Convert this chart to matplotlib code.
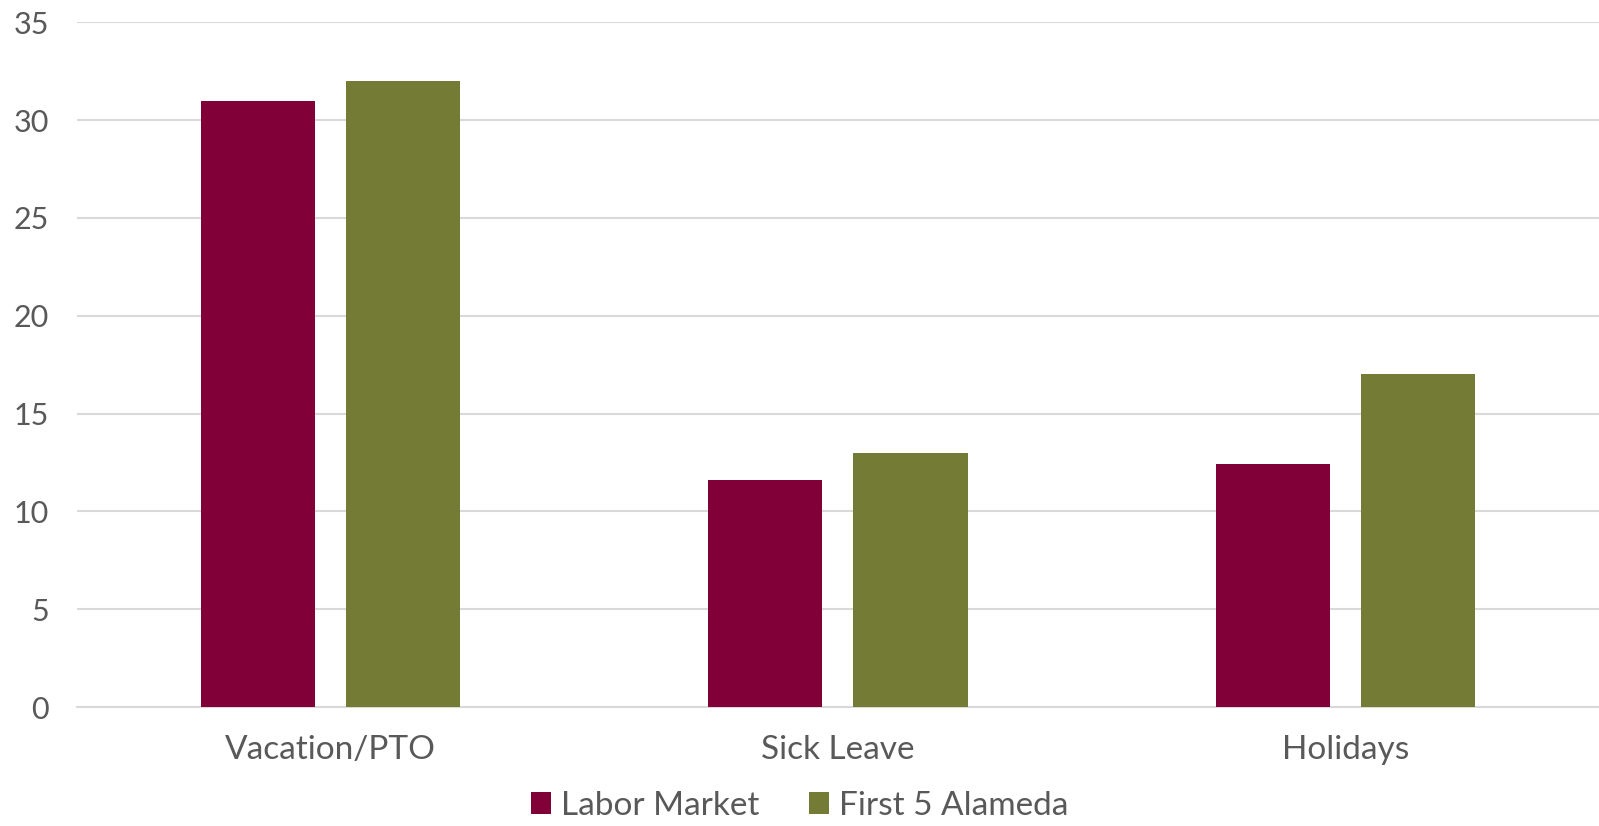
import numpy as np
import matplotlib.pyplot as plt

categories = ["Vacation/PTO", "Sick Leave", "Holidays"]
labor_market = [31, 11.6, 12.4]
first5 = [32, 13, 17]
series_names = ["Labor Market", "First 5 Alameda"]
colors = ["#800037", "#747b35"]
text_color = "#595959"

plt.rcParams['font.family'] = ['Lato', 'DejaVu Sans']

fig = plt.figure(figsize=(15.99, 8.26), dpi=100)
ax = fig.add_axes([0.048, 0.144, 0.952, 0.829])

x = np.arange(len(categories))
w = 0.225
off = 0.143
ax.bar(x - off, labor_market, w, color=colors[0], label=series_names[0], zorder=3)
ax.bar(x + off, first5, w, color=colors[1], label=series_names[1], zorder=3)

ax.set_xlim(-0.5, len(categories) - 0.5)
ax.set_ylim(0, 35)
ax.set_yticks(range(0, 36, 5))
ax.set_xticks(x)
ax.set_xticklabels(categories)
ax.yaxis.grid(True, color="#d9d9d9", linewidth=1.5, zorder=0)
for s in ["top", "right", "left"]:
    ax.spines[s].set_visible(False)
ax.spines["bottom"].set_color("#d9d9d9")
ax.spines["bottom"].set_linewidth(1.5)
ax.tick_params(axis="both", length=0, colors=text_color)
ax.tick_params(axis="x", pad=20, labelsize=24)
ax.tick_params(axis="y", pad=20, labelsize=22)

fig.legend(loc="lower center", bbox_to_anchor=(0.5, -0.03), ncol=2, frameon=False,
           fontsize=24, labelcolor=text_color, handlelength=0.6, handleheight=0.6,
           handletextpad=0.3, columnspacing=1.5)

fig.savefig("out.png", dpi=100)
